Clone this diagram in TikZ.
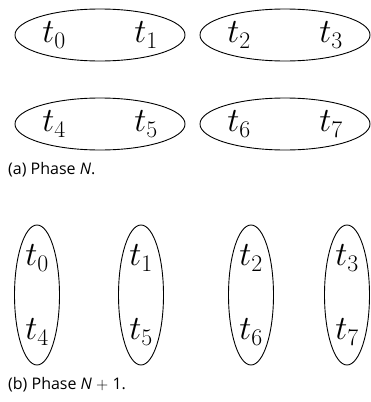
\documentclass[tikz,border=0pt]{standalone}
\usepackage{fix-cm}
\usepackage{fontspec}
\setsansfont{Open Sans}
\usetikzlibrary{shapes.geometric, positioning}

\begin{document}
\begin{tikzpicture}[
    x=1pt, y=-1pt,
    every node/.style={font=\fontsize{34}{40}\selectfont},
    widegroup/.style={ellipse, draw, line width=0.9pt, minimum width=170pt,
        minimum height=52pt, inner sep=0pt},
    tallgroup/.style={ellipse, draw, line width=0.9pt, minimum width=45pt,
        minimum height=140pt, inner sep=0pt},
    caption/.style={font=\sffamily\fontsize{16}{19}\selectfont, anchor=west, inner sep=0pt},
]
\useasboundingbox (0,0) rectangle (371,402);

% --- Phase N ---
\node[widegroup] (ga) at (100,35) {};
\node[widegroup] (gb) at (285,35) {};
\node[widegroup] (gc) at (100,124) {};
\node[widegroup] (gd) at (285,124) {};

\node (a0) at ([xshift=-46pt]ga.center) {$t_0$};
\node (a1) at ([xshift=46pt]ga.center) {$t_1$};
\node (a2) at ([xshift=-46pt]gb.center) {$t_2$};
\node (a3) at ([xshift=46pt]gb.center) {$t_3$};
\node (a4) at ([xshift=-46pt]gc.center) {$t_4$};
\node (a5) at ([xshift=46pt]gc.center) {$t_5$};
\node (a6) at ([xshift=-46pt]gd.center) {$t_6$};
\node (a7) at ([xshift=46pt]gd.center) {$t_7$};

\node[caption] (capa) at (8,170) {(a) Phase \textit{N}.};

% --- Phase N+1 ---
\node[tallgroup] (ha) at (37,295) {};
\node[tallgroup] (hb) at (141,295) {};
\node[tallgroup] (hc) at (251,295) {};
\node[tallgroup] (hd) at (347,295) {};

\node (b0) at ([yshift=37pt]ha.center) {$t_0$};
\node (b4) at ([yshift=-37pt]ha.center) {$t_4$};
\node (b1) at ([yshift=37pt]hb.center) {$t_1$};
\node (b5) at ([yshift=-37pt]hb.center) {$t_5$};
\node (b2) at ([yshift=37pt]hc.center) {$t_2$};
\node (b6) at ([yshift=-37pt]hc.center) {$t_6$};
\node (b3) at ([yshift=37pt]hd.center) {$t_3$};
\node (b7) at ([yshift=-37pt]hd.center) {$t_7$};

\node[caption] (capb) at (8,385) {(b) Phase \textit{N} $+$ 1.};

\end{tikzpicture}
\end{document}
